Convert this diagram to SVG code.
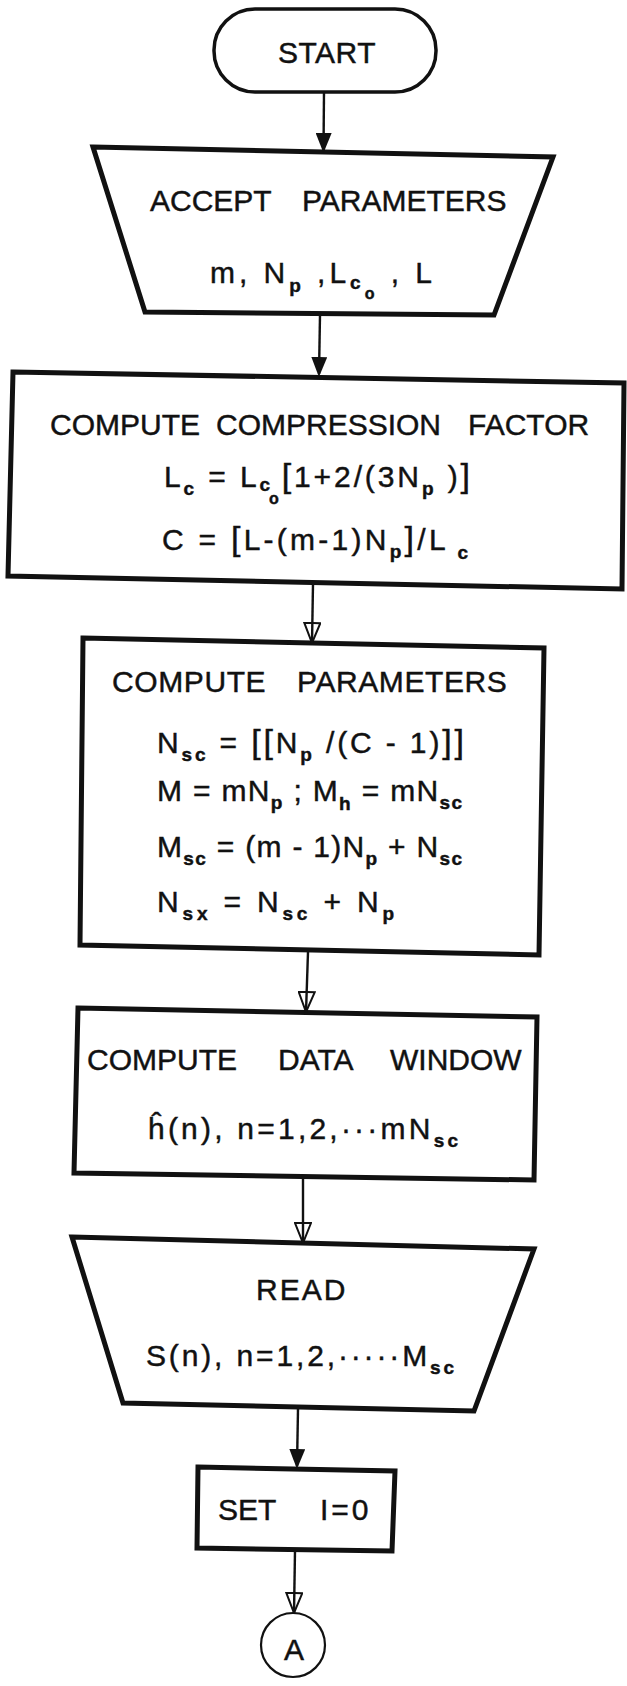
<svg xmlns="http://www.w3.org/2000/svg" width="627" height="1686" viewBox="0 0 627 1686">
<style>
.bg{fill:#fff}
.box{fill:#fff;stroke:#111;stroke-width:5;stroke-linejoin:miter}
.pill{fill:#fff;stroke:#111;stroke-width:3.5}
.conn{fill:#fff;stroke:#111;stroke-width:2.2}
.wire{fill:none;stroke:#111;stroke-width:2.4}
.t{font-family:"Liberation Sans",Arial,sans-serif;fill:#111;stroke:#111;stroke-width:0.45;font-size:30px}
.s{font-size:19px;font-weight:bold}
.s2{font-size:16px;font-weight:bold}
.big{font-size:34px}
</style>
<defs>
<marker id="af" viewBox="0 0 20 16" refX="17" refY="8" markerWidth="20" markerHeight="16" orient="auto" markerUnits="userSpaceOnUse"><path d="M0,0 L20,8 L0,16 Z" fill="#111"/></marker>
<marker id="ao" viewBox="-1 -1 22 18" refX="20" refY="8" markerWidth="22" markerHeight="18" orient="auto" markerUnits="userSpaceOnUse"><path d="M0,0 L20,8 L0,16 Z" fill="none" stroke="#111" stroke-width="2"/></marker>
</defs>
<rect class="bg" x="0" y="0" width="627" height="1686"/>

<g id="start">
<rect class="pill" x="214" y="9" width="222" height="83" rx="41" ry="41"/>
<text class="t" x="278" y="63" letter-spacing="0.5">START</text>
</g>

<g id="accept">
<polygon class="box" points="93,147 553,157 494,315 145,312"/>
<text class="t" y="211" font-size="30.5"><tspan x="150">ACCEPT </tspan><tspan x="302">PARAMETERS</tspan></text>
<text class="t" x="210" y="283" textLength="222" lengthAdjust="spacing">m, N<tspan class="s" dy="9">p</tspan><tspan dy="-9"> ,L</tspan><tspan class="s" dy="6">c</tspan><tspan class="s2" dy="10">o</tspan><tspan dy="-16"> , L</tspan></text>
</g>

<g id="compression">
<polygon class="box" points="13,372 624,383 622,589 8,576"/>
<text class="t" y="435" font-size="29"><tspan x="50">COMPUTE </tspan><tspan x="216">COMPRESSION </tspan><tspan x="468">FACTOR</tspan></text>
<text class="t" x="164" y="487" font-size="29" textLength="306" lengthAdjust="spacing">L<tspan class="s" dy="8">c</tspan><tspan dy="-8"> = L</tspan><tspan class="s" dy="4">c</tspan><tspan class="s2" dx="-4" dy="13">o</tspan><tspan class="big" dy="-17">[</tspan>1+2/(3N<tspan class="s" dy="8">p</tspan><tspan dy="-8"> )</tspan><tspan class="big">]</tspan></text>
<text class="t" x="162" y="550" font-size="29" textLength="306" lengthAdjust="spacing">C = <tspan class="big">[</tspan>L-(m-1)N<tspan class="s" dy="8">p</tspan><tspan class="big" dy="-8">]</tspan>/L<tspan class="s" dy="9"> c</tspan></text>
</g>

<g id="parameters">
<polygon class="box" points="83,638 544,648 539,955 80,945"/>
<text class="t" y="692" letter-spacing="0.6"><tspan x="112">COMPUTE </tspan><tspan x="297">PARAMETERS</tspan></text>
<text class="t" x="157" y="753" textLength="307" lengthAdjust="spacing">N<tspan class="s" dy="8">sc</tspan><tspan dy="-8"> = </tspan><tspan class="big">[[</tspan>N<tspan class="s" dy="8">p</tspan><tspan dy="-8"> /(C - 1)</tspan><tspan class="big">]]</tspan></text>
<text class="t" x="157" y="801" textLength="305" lengthAdjust="spacing">M = mN<tspan class="s" dy="8">p</tspan><tspan dy="-8"> ; M</tspan><tspan class="s" dy="9">h</tspan><tspan dy="-9"> = mN</tspan><tspan class="s" dy="8">sc</tspan></text>
<text class="t" x="157" y="857" textLength="305" lengthAdjust="spacing">M<tspan class="s" dy="8">sc</tspan><tspan dy="-8"> = (m - 1)N</tspan><tspan class="s" dy="8">p</tspan><tspan dy="-8"> + N</tspan><tspan class="s" dy="8">sc</tspan></text>
<text class="t" x="157" y="912" textLength="237" lengthAdjust="spacing">N<tspan class="s" dy="8">sx</tspan><tspan dy="-8"> = N</tspan><tspan class="s" dy="8">sc</tspan><tspan dy="-8">  +  N</tspan><tspan class="s" dy="8">p</tspan></text>
</g>

<g id="window">
<polygon class="box" points="78,1008 537,1017 534,1180 74,1173"/>
<text class="t" y="1070"><tspan x="87">COMPUTE </tspan><tspan x="278">DATA </tspan><tspan x="390">WINDOW</tspan></text>
<text class="t" x="148" y="1139" textLength="310" lengthAdjust="spacing">ĥ(n), n=1,2,···mN<tspan class="s" dy="8">sc</tspan></text>
</g>

<g id="read">
<polygon class="box" points="72,1237 534,1249 474,1411 123,1403"/>
<text class="t" x="256" y="1300" font-size="29" letter-spacing="2">READ</text>
<text class="t" x="146" y="1366" textLength="308" lengthAdjust="spacing">S(n), n=1,2,·····M<tspan class="s" dy="8">sc</tspan></text>
</g>

<g id="set">
<polygon class="box" points="198,1467 395,1471 392,1551 197,1548"/>
<text class="t" y="1520"><tspan x="218">SET </tspan><tspan x="320" letter-spacing="3">I=0</tspan></text>
</g>

<g id="connectorA">
<circle class="conn" cx="293" cy="1645" r="32"/>
<text class="t" x="294" y="1660" text-anchor="middle">A</text>
</g>

<g id="connectors">
<path class="wire" d="M324,92 L323.5,150" marker-end="url(#af)"/>
<path class="wire" d="M320,315 L319,374" marker-end="url(#af)"/>
<path class="wire" d="M313,584 L312,643" marker-end="url(#ao)"/>
<path class="wire" d="M308,952 L306,1012" marker-end="url(#ao)"/>
<path class="wire" d="M303,1178 L303,1243" marker-end="url(#ao)"/>
<path class="wire" d="M298,1409 L297,1466" marker-end="url(#af)"/>
<path class="wire" d="M295,1551 L294,1613" marker-end="url(#ao)"/>
</g>
</svg>
